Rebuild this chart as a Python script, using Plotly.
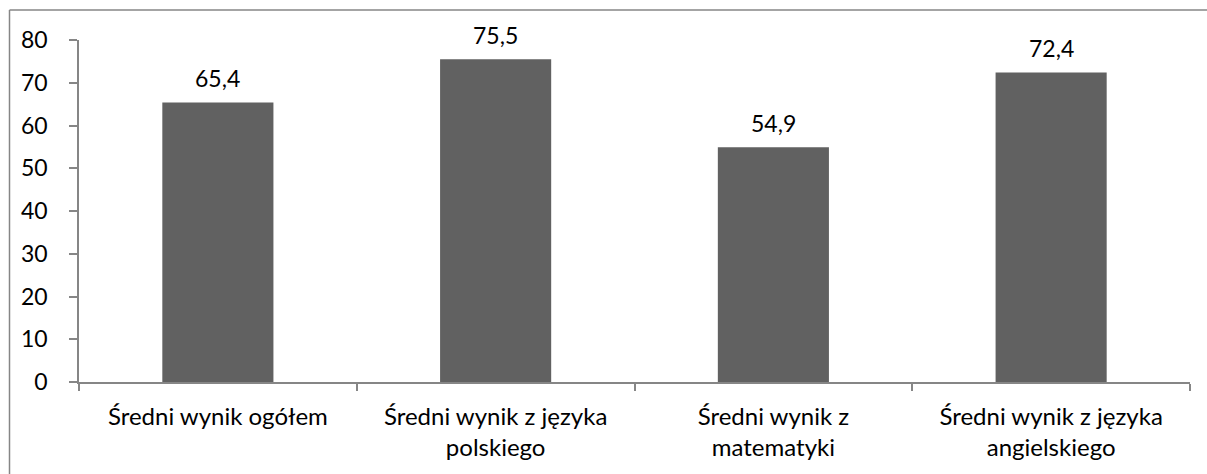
import plotly.graph_objects as go

categories = ["Średni wynik ogółem", "Średni wynik z języka<br>polskiego",
              "Średni wynik z<br>matematyki", "Średni wynik z języka<br>angielskiego"]
values = [65.4, 75.5, 54.9, 72.4]
y_ticks = [0, 10, 20, 30, 40, 50, 60, 70, 80]

FONT = "Lato"
FS = 23
AXIS = "#868686"
BAR = "#616161"

fig = go.Figure()
fig.add_trace(go.Bar(x=categories, y=values, marker=dict(color=BAR, line=dict(width=0)),
                     width=0.4, hoverinfo="skip"))

for c, v in zip(categories, values):
    fig.add_annotation(x=c, y=v, text=f"{v:.1f}".replace(".", ","), showarrow=False,
                       yanchor="bottom", yshift=8, font=dict(family=FONT, size=FS, color="#000000"))

# outer chart border: only top and left edges fall inside the frame
bx0 = (9.5 - 79) / 1111
by1 = (382 - 10) / 342
fig.add_shape(type="line", xref="paper", yref="paper", x0=bx0, x1=1.2, y0=by1, y1=by1,
              line=dict(color=AXIS, width=1.5), layer="below")
fig.add_shape(type="line", xref="paper", yref="paper", x0=bx0, x1=bx0, y0=by1, y1=-0.5,
              line=dict(color=AXIS, width=1.5), layer="below")

fig.update_layout(
    width=1207, height=474,
    margin=dict(l=79, r=17, t=40, b=92, autoexpand=False),
    plot_bgcolor="white", paper_bgcolor="white",
    showlegend=False,
    font=dict(family=FONT, size=FS, color="#000000"),
    xaxis=dict(showline=True, linecolor=AXIS, linewidth=1.5, ticks="outside", tickson="boundaries",
               ticklen=7, tickcolor=AXIS, tickwidth=1.5, showgrid=False, ticklabelstandoff=12,
               automargin=False, tickfont=dict(family=FONT, size=24, color="#000000")),
    yaxis=dict(range=[0, 80], tickvals=y_ticks, showline=True, linecolor=AXIS, linewidth=1.5,
               ticks="outside", ticklen=8, tickcolor=AXIS, tickwidth=1.5, showgrid=False,
               zeroline=False, ticklabelstandoff=17, automargin=False,
               tickfont=dict(family=FONT, size=FS, color="#000000")),
)

fig.write_html("out.html", config={"displayModeBar": False},
               post_script="document.body.style.margin='0';document.body.style.overflow='hidden';")
